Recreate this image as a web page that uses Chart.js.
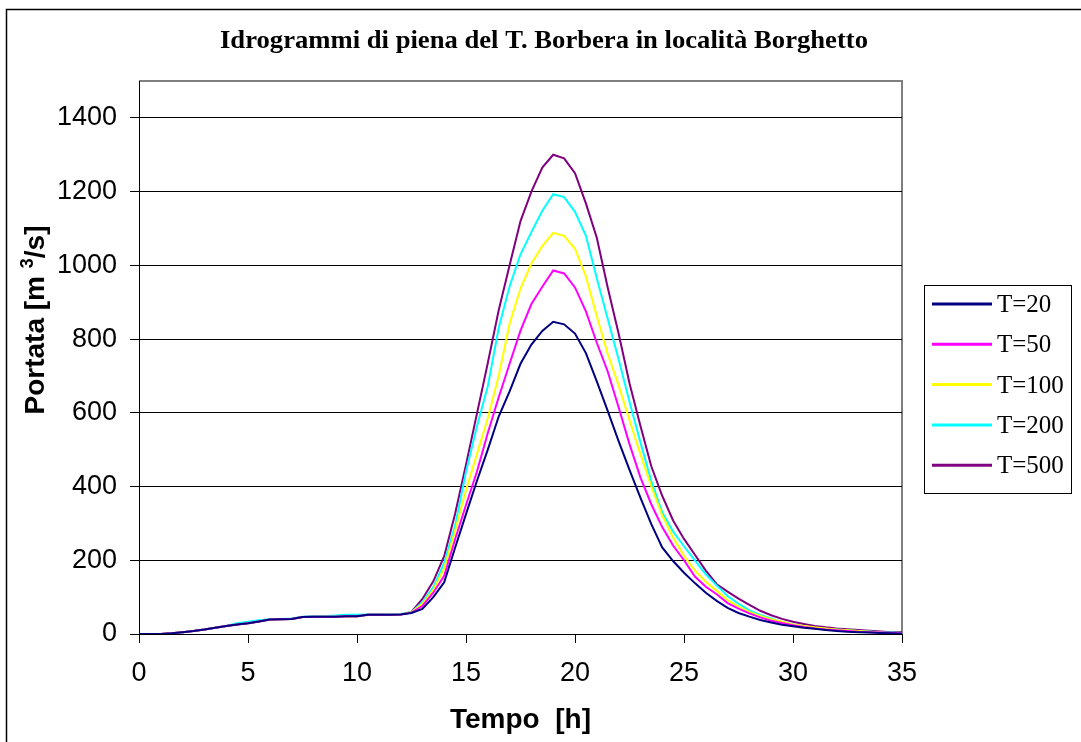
<!DOCTYPE html>
<html>
<head>
<meta charset="utf-8">
<title>Idrogrammi di piena del T. Borbera</title>
<script src="https://cdn.jsdelivr.net/npm/chart.js@4.4.0/dist/chart.umd.min.js"></script>
<style>
  html, body { margin: 0; padding: 0; background: #fff; }
  #wrap { width: 1081px; height: 742px; }
</style>
</head>
<body>
<div id="wrap"><canvas id="hydroChart" width="1081" height="742"></canvas></div>
<script>
// Tempo [h], passo di mezz'ora
const timeHours = [0, 0.5, 1, 1.5, 2, 2.5, 3, 3.5, 4, 4.5, 5, 5.5, 6, 6.5, 7, 7.5, 8, 8.5, 9, 9.5,
    10, 10.5, 11, 11.5, 12, 12.5, 13, 13.5, 14, 14.5, 15, 15.5, 16, 16.5, 17, 17.5, 18, 18.5, 19, 19.5,
    20, 20.5, 21, 21.5, 22, 22.5, 23, 23.5, 24, 24.5, 25, 25.5, 26, 26.5, 27, 27.5, 28, 28.5, 29, 29.5,
    30, 30.5, 31, 31.5, 32, 32.5, 33, 33.5, 34, 34.5, 35];

// Portate [m3/s] per tempo di ritorno
const qT20 = [0, 0, 0, 2, 5, 8, 12, 17, 22, 26, 29, 34, 39, 40, 41, 46, 47, 47, 47, 48, 48, 52, 52, 52, 53,
    57, 68, 100, 140, 234, 325, 415, 500, 590, 658, 733, 785, 822,
    847, 840, 815, 762, 685, 605, 523, 445, 370, 298, 235, 198, 166, 138, 112, 90, 71, 57, 47, 38,
    31, 25, 21, 17, 14, 11, 8, 6, 5, 4, 3, 2, 1];
const qT50 = [0, 0, 0, 2, 5, 8, 12, 17, 22, 26, 29, 34, 39, 40, 41, 46, 47, 47, 47, 48, 48, 52, 52, 52, 53,
    58, 76, 112, 158, 257, 350, 440, 545, 642, 733, 823, 895, 942,
    986, 978, 940, 875, 790, 712, 615, 515, 425, 352, 290, 240, 200, 156, 128, 108, 84, 69, 56, 45,
    36, 30, 24, 19, 15, 12, 10, 8, 6, 5, 4, 3, 2];
const qT100 = [0, 0, 0, 2, 5, 8, 12, 17, 22, 26, 29, 34, 39, 40, 41, 46, 47, 47, 47, 48, 48, 52, 52, 52, 53,
    59, 82, 120, 178, 280, 390, 488, 585, 700, 842, 937, 1005, 1052,
    1088, 1080, 1045, 970, 862, 760, 675, 580, 488, 400, 322, 262, 212, 172, 142, 117, 92, 74, 60, 49,
    40, 33, 26, 22, 18, 15, 12, 10, 8, 6, 4, 2, 0];
const qT200 = [0, 0, 0, 2, 5, 8, 12, 17, 22, 29, 33, 37, 40, 41, 42, 47, 48, 48, 50, 52, 52, 53, 53, 53, 54,
    59, 86, 127, 193, 294, 440, 563, 672, 830, 943, 1030, 1090, 1148,
    1193, 1185, 1145, 1080, 965, 855, 745, 630, 520, 415, 330, 278, 238, 200, 162, 132, 103, 82, 64, 52,
    42, 33, 26, 21, 17, 14, 12, 10, 8, 7, 5, 4, 3];
const qT500 = [0, 0, 0, 2, 5, 8, 12, 17, 22, 26, 29, 34, 39, 40, 41, 46, 47, 47, 47, 48, 48, 52, 52, 52, 53,
    60, 95, 143, 211, 326, 459, 597, 735, 878, 1000, 1120, 1200, 1265,
    1300, 1290, 1250, 1168, 1075, 940, 815, 680, 565, 455, 375, 308, 258, 215, 172, 135, 115, 96, 79, 63,
    51, 41, 33, 27, 22, 18, 15, 13, 11, 9, 7, 5, 5];

const seriesLabels = ['T=20', 'T=50', 'T=100', 'T=200', 'T=500'];
const seriesColors = ['#000080', '#FF00FF', '#FFFF00', '#00FFFF', '#800080'];
const seriesValues = [qT20, qT50, qT100, qT200, qT500];

const chartTitle = 'Idrogrammi di piena del T. Borbera in località Borghetto';
const xTitle = 'Tempo  [h]';

const sansFont = 'Arial, "Liberation Sans", sans-serif';
const serifFont = '"Liberation Serif", "Times New Roman", serif';

// Cornice, titoli e legenda disegnati a mano come nel grafico Excel
const decorPlugin = {
    id: 'decor',
    beforeDraw(chart) {
        const ctx = chart.ctx;
        const a = chart.chartArea;
        ctx.save();
        ctx.fillStyle = '#fff';
        ctx.fillRect(0, 0, chart.width, chart.height);
        // bordo esterno dell'area grafico
        ctx.strokeStyle = '#000';
        ctx.lineWidth = 1.5;
        ctx.strokeRect(6.5, 9.5, 1200, 900);
        // bordo grigio dell'area del tracciato
        ctx.strokeStyle = '#808080';
        ctx.lineWidth = 2;
        ctx.beginPath();
        ctx.moveTo(a.left, a.top);
        ctx.lineTo(a.right, a.top);
        ctx.lineTo(a.right, a.bottom);
        ctx.stroke();
        ctx.restore();
    },
    afterDraw(chart) {
        const ctx = chart.ctx;
        const a = chart.chartArea;
        ctx.save();
        ctx.fillStyle = '#000';

        // titolo
        ctx.font = 'bold 25px ' + serifFont;
        const tw = ctx.measureText(chartTitle).width;
        ctx.translate(544, 48);
        ctx.scale(648 / tw, 1);
        ctx.textAlign = 'center';
        ctx.textBaseline = 'alphabetic';
        ctx.fillText(chartTitle, 0, 0);
        ctx.setTransform(1, 0, 0, 1, 0, 0);

        // titolo asse x
        ctx.font = 'bold 28px ' + sansFont;
        ctx.textAlign = 'center';
        ctx.fillText(xTitle, (a.left + a.right) / 2, 728);

        // titolo asse y con apice
        const p1 = 'Portata [m ', p2 = '3', p3 = '/s]';
        ctx.font = 'bold 28px ' + sansFont;
        const w1 = ctx.measureText(p1).width, w3 = ctx.measureText(p3).width;
        ctx.font = 'bold 18px ' + sansFont;
        const w2 = ctx.measureText(p2).width;
        const total = w1 + w2 + w3;
        ctx.translate(44, 320);
        ctx.rotate(-Math.PI / 2);
        ctx.textAlign = 'left';
        let x = -total / 2;
        ctx.font = 'bold 28px ' + sansFont;
        ctx.fillText(p1, x, 0);
        x += w1;
        ctx.font = 'bold 18px ' + sansFont;
        ctx.fillText(p2, x, -11);
        x += w2;
        ctx.font = 'bold 28px ' + sansFont;
        ctx.fillText(p3, x, 0);
        ctx.setTransform(1, 0, 0, 1, 0, 0);

        // legenda
        ctx.fillStyle = '#fff';
        ctx.fillRect(924, 285, 147, 208);
        ctx.strokeStyle = '#000';
        ctx.lineWidth = 1;
        ctx.strokeRect(924.5, 285.5, 147, 208);
        ctx.font = '25px ' + serifFont;
        ctx.textAlign = 'left';
        ctx.textBaseline = 'alphabetic';
        chart.data.datasets.forEach((ds, i) => {
            const cy = 304 + i * 40.3;
            ctx.strokeStyle = ds.borderColor;
            ctx.lineWidth = 3;
            ctx.beginPath();
            ctx.moveTo(932, cy);
            ctx.lineTo(992, cy);
            ctx.stroke();
            ctx.fillStyle = '#000';
            ctx.fillText(ds.label, 997, cy + 8);
        });
        ctx.restore();
    }
};

const datasets = seriesValues.map((vals, i) => ({
    label: seriesLabels[i],
    data: vals.map((q, j) => ({ x: timeHours[j], y: q })),
    borderColor: seriesColors[i],
    backgroundColor: seriesColors[i],
    borderWidth: 2,
    pointRadius: 0,
    tension: 0,
    fill: false
}));

new Chart(document.getElementById('hydroChart').getContext('2d'), {
    type: 'line',
    data: { datasets: datasets },
    options: {
        responsive: false,
        animation: false,
        events: [],
        layout: { padding: { top: 81, right: 179, left: 0, bottom: 0 } },
        plugins: {
            legend: { display: false },
            title: { display: false },
            tooltip: { enabled: false }
        },
        scales: {
            x: {
                type: 'linear',
                min: 0,
                max: 35,
                afterFit: (scale) => { scale.height = 108; },
                grid: { drawOnChartArea: false, drawTicks: true, tickLength: 9, tickColor: '#000' },
                border: { display: true, color: '#000', width: 1 },
                ticks: {
                    stepSize: 5,
                    color: '#000',
                    padding: 14,
                    maxRotation: 0,
                    callback: (v) => String(v),
                    font: { family: sansFont, size: 27 }
                }
            },
            y: {
                min: 0,
                max: 1500,
                afterFit: (scale) => { scale.width = 139; },
                grid: { color: '#000', lineWidth: 1, tickLength: 9, tickColor: '#000' },
                border: { display: true, color: '#000', width: 1 },
                ticks: {
                    stepSize: 200,
                    includeBounds: false,
                    color: '#000',
                    padding: 13,
                    callback: (v) => String(v),
                    font: { family: sansFont, size: 27 }
                }
            }
        }
    },
    plugins: [decorPlugin]
});
</script>
</body>
</html>
